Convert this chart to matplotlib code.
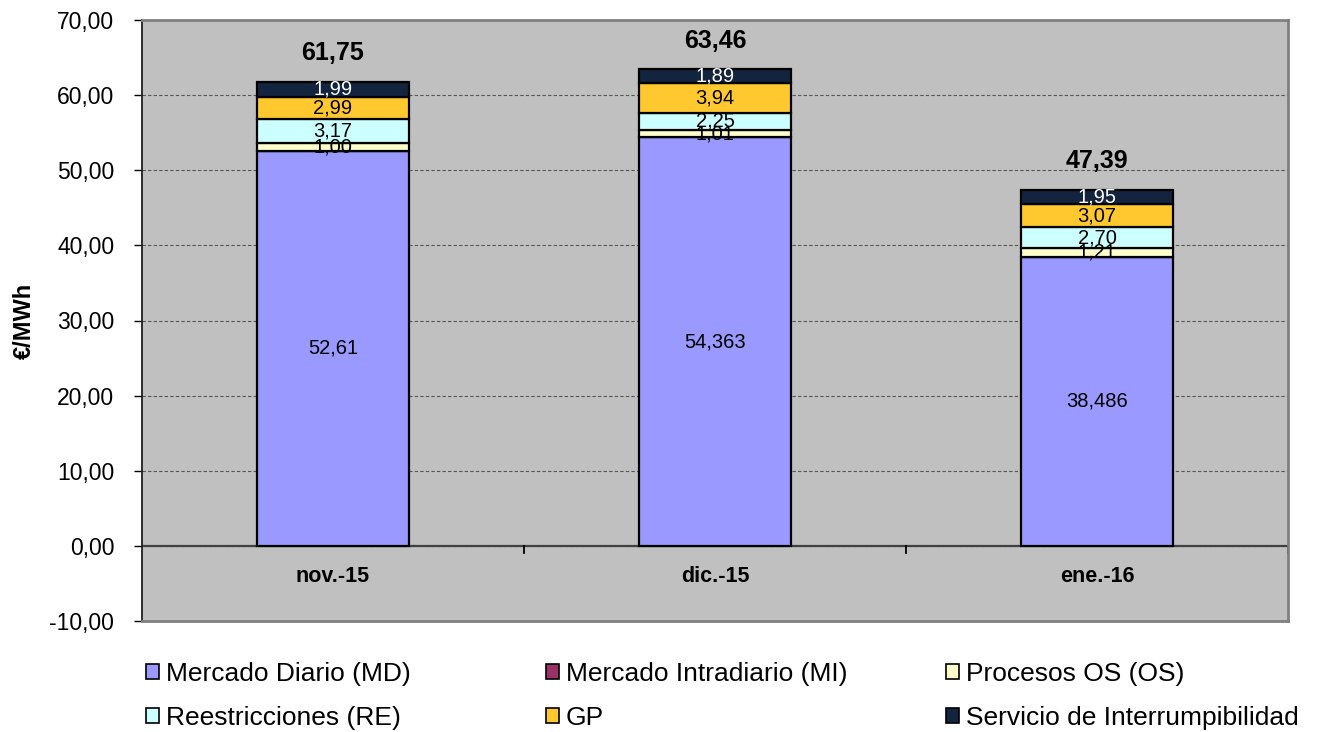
import matplotlib
matplotlib.use("Agg")
import matplotlib.pyplot as plt
import numpy as np
from matplotlib.patches import Patch

plt.rcParams['font.family'] = ['Liberation Sans', 'DejaVu Sans']

categories = ["nov.-15", "dic.-15", "ene.-16"]
series_names = ["Mercado Diario (MD)", "Mercado Intradiario (MI)", "Procesos OS (OS)",
                "Reestricciones (RE)", "GP", "Servicio de Interrumpibilidad"]
md = [52.61, 54.363, 38.486]
mi = [0.0, 0.0, 0.0]
os_ = [1.00, 1.01, 1.21]
re = [3.17, 2.25, 2.70]
gp = [2.99, 3.94, 3.07]
si = [1.99, 1.89, 1.95]
totals = [61.75, 63.46, 47.39]
yticks = [-10, 0, 10, 20, 30, 40, 50, 60, 70]

series = [md, mi, os_, re, gp, si]
colors = ["#9999FF", "#993366", "#FFFFCC", "#CCFFFF", "#FFC82E", "#13243F"]
label_colors = ["black", "black", "black", "black", "black", "white"]

W, H = 1327, 732
fig = plt.figure(figsize=(W / 100, H / 100), dpi=100)
ax = fig.add_axes([142 / W, 1 - 621 / H, (1288 - 142) / W, (621 - 20) / H])
ax.set_facecolor("#C0C0C0")

x = np.arange(len(categories))
width = 0.4
bottom = np.zeros(len(categories))
for i, (vals, c) in enumerate(zip(series, colors)):
    vals = np.array(vals)
    ax.bar(x, vals, width, bottom=bottom, color=c, edgecolor="black", linewidth=1.6, zorder=3)
    if i != 1:
        for xi, v, b in zip(x, vals, bottom):
            if i == 0:
                txt = f"{v:g}".replace(".", ",")
            else:
                txt = f"{v:.2f}".replace(".", ",")
            ax.text(xi, b + v / 2, txt, ha="center", va="center", fontsize=14.5,
                    color=label_colors[i], zorder=4)
    bottom = bottom + vals

for xi, t, top in zip(x, totals, bottom):
    ax.text(xi, top + 2.2, f"{t:.2f}".replace(".", ","), ha="center", va="bottom",
            fontsize=18, fontweight="bold", zorder=4)

for xi, cat in zip(x, categories):
    ax.text(xi, -4.1, cat, ha="center", va="center", fontsize=15.5, fontweight="bold")

ax.set_xlim(-0.5, 2.5)
ax.set_ylim(-10, 70)
ax.set_yticks(yticks)
ax.set_yticklabels([f"{v:.2f}".replace(".", ",") for v in yticks], fontsize=16.5)
ax.set_xticks([])
ax.yaxis.grid(True, color="#555555", linestyle=(0, (3, 2)), linewidth=0.8, zorder=0)
ax.axhline(0, color="#404040", linewidth=1.6, zorder=2)
for xb in [0.5, 1.5, 2.5]:
    ax.plot([xb, xb], [0, -0.9], color="black", linewidth=1.3, zorder=2, clip_on=False)
ax.tick_params(axis="y", direction="out", length=6, width=1, pad=14)
for s in ax.spines.values():
    s.set_color("#808080")
    s.set_linewidth(2)
ax.spines["left"].set_color("#202020")
ax.spines["left"].set_linewidth(1.3)
ax.set_ylabel("€/MWh", fontsize=17, fontweight="bold", labelpad=10)

handles = [Patch(facecolor=c, edgecolor="black", linewidth=1.2) for c in colors]
col_x = [146, 546, 946]
for ci in range(3):
    idx = [ci, ci + 3]
    fig.legend([handles[k] for k in idx], [series_names[k] for k in idx],
               loc="upper left", bbox_to_anchor=(col_x[ci] / W, 1 - 662 / H),
               ncol=1, frameon=False, fontsize=19, handlelength=0.5, handleheight=0.5,
               handletextpad=0.25, labelspacing=0.75, borderpad=0, borderaxespad=0)

fig.savefig("out.png", dpi=100)
